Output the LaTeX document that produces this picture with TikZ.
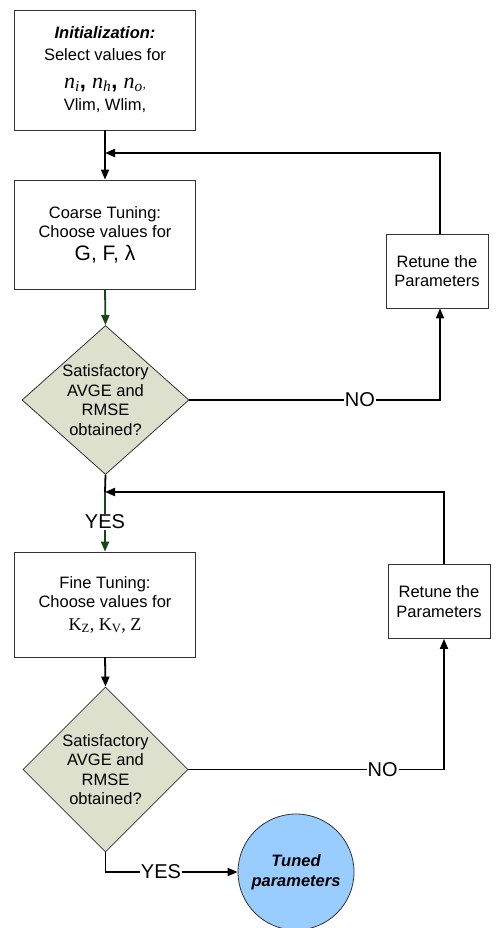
\documentclass[tikz,border=0pt]{standalone}
\usepackage{fontspec}
\setmainfont{Liberation Sans}
\newfontfamily\timesfont{Liberation Serif}
\usetikzlibrary{shapes.geometric, arrows.meta, calc}

\definecolor{diafill}{RGB}{221,224,204}
\definecolor{endfill}{RGB}{153,204,255}
\definecolor{flowgreen}{RGB}{22,72,22}

\newcommand{\nodesym}[1]{{\timesfont\itshape n}\textsubscript{\timesfont\itshape #1}}

\tikzset{
  stepbox/.style={draw=black!80, line width=0.8pt, fill=white, rectangle, minimum width=181pt, align=center, font=\fontsize{16.5}{19.5}\selectfont},
  retunebox/.style={stepbox, minimum width=102pt, minimum height=74pt},
  decision/.style={draw=black!80, line width=0.8pt, fill=diafill, diamond, minimum width=167pt, minimum height=149pt, inner sep=0pt},
  diatext/.style={align=center, font=\fontsize{16.5}{19.5}\selectfont},
  endnode/.style={draw=black!80, line width=0.8pt, circle, fill=endfill, minimum size=116pt, align=center, font=\fontsize{16.5}{19.5}\selectfont\bfseries\itshape},
  flow/.style={line width=1.8pt, -{Triangle[length=10pt,width=8pt]}},
  link/.style={line width=1.8pt},
  tag/.style={fill=white, inner sep=1pt, font=\fontsize{20}{22}\selectfont},
}

\begin{document}
\begin{tikzpicture}[x=1pt, y=-1pt]
\useasboundingbox (0,0) rectangle (496,928);

% main column
\node[stepbox, minimum height=120pt] (init) at (105,70) {{\bfseries\itshape Initialization:}\\[2.5pt]Select values for\\[8pt]{\fontsize{22}{24}\selectfont\nodesym{i}\textbf{,} \nodesym{h}\textbf{,} \nodesym{o}{\fontsize{12}{14}\selectfont\timesfont,}}\\[3pt]Vlim, Wlim,};
\node[stepbox, minimum height=109pt] (coarse) at (105,234.5) {Coarse Tuning:\\Choose values for\\[3pt]{\fontsize{21}{22}\selectfont G, F, λ}};
\node[decision] (dec1) at (105.5,400) {};
\node[diatext] (q1) at (dec1) {Satisfactory\\AVGE and\\RMSE\\obtained?};
\node[stepbox, minimum height=105pt] (fine) at (105,604.5) {Fine Tuning:\\Choose values for\\[3pt]{\fontsize{18}{20}\selectfont\timesfont K\textsubscript{Z}, K\textsubscript{V}, Z}};
\node[decision, minimum width=165pt, minimum height=165pt] (dec2) at (105.5,769.5) {};
\node[diatext] (q2) at (dec2) {Satisfactory\\AVGE and\\RMSE\\obtained?};
\node[endnode] (tuned) at (296,872) {Tuned\\parameters};

% retune boxes
\node[retunebox] (ret1) at (437,271) {Retune the\\Parameters};
\node[retunebox] (ret2) at (439,601.5) {Retune the\\Parameters};

\coordinate (j1) at (105,153);
\coordinate (j2) at (105,492);

% connectors
\draw[flow] (init.south) -- (coarse.north);
\draw[flow, flowgreen] (coarse.south) -- (dec1.north);
\draw[link] (dec1.south) -- (j2);
\draw[flow, flowgreen] (j2) -- node[tag, text=black] {YES} (fine.north);
\draw[flow] (fine.south) -- (dec2.north);
\draw[flow] (dec2.south) |- node[tag, pos=0.71] {YES} (tuned.west);

% retune loops
\draw[flow] (dec1.east) -| node[tag, pos=0.34] {NO} ($(ret1.south)+(3,0)$);
\draw[flow] ($(ret1.north)+(3,0)$) |- (j1);
\draw[flow] (dec2.east) -| node[tag, pos=0.38] {NO} ($(ret2.south)+(5,0)$);
\draw[flow] ($(ret2.north)+(5,0)$) |- (j2);
\end{tikzpicture}
\end{document}
